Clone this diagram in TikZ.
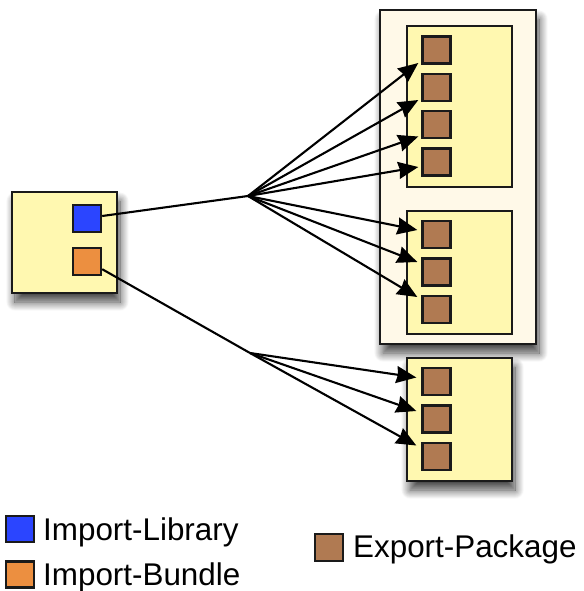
\documentclass[tikz,border=0pt]{standalone}
\usepackage{fontspec}
\setmainfont{Liberation Sans}
\usetikzlibrary{arrows.meta,calc,shadows.blur}
\definecolor{boxyellow}{HTML}{FFF8B0}
\definecolor{cream}{HTML}{FFF9E8}
\definecolor{libblue}{HTML}{2B45FF}
\definecolor{bndorange}{HTML}{EC8F40}
\definecolor{pkgbrown}{HTML}{B07A52}
\definecolor{edge}{HTML}{1A1A1A}
\tikzset{
  bundle/.style={draw=edge, line width=2.4bp, fill=boxyellow, inner sep=0pt},
  container/.style={draw=edge, line width=2.4bp, fill=cream, inner sep=0pt},
  shad/.style={blur shadow={shadow xshift=3bp, shadow yshift=-9bp, shadow blur radius=9bp, shadow blur steps=14, shadow opacity=75}},
  pkg/.style={draw=edge, line width=2.4bp, inner sep=0pt, minimum width=28bp, minimum height=27bp},
  explib/.style={pkg, fill=pkgbrown},
  implib/.style={pkg, fill=libblue},
  impbnd/.style={pkg, fill=bndorange},
  wire/.style={draw=black, line width=2.1bp},
  arrowwire/.style={wire, -{Stealth[length=20bp,width=17bp,inset=1.5bp]}},
  legtext/.style={anchor=base west, inner sep=0pt, font=\fontsize{31.5}{36}\selectfont}
}
\begin{document}
\begin{tikzpicture}[x=1bp,y=-1bp]
\useasboundingbox (0,0) rectangle (584,591);
% left bundle
\node[bundle, shad, minimum width=105bp, minimum height=101bp] (L) at (64.5,242.5) {};
\node[implib] (IL) at (87,218.5) {};
\node[impbnd] (IB) at (87,261.5) {};
% container with two bundles
\node[container, shad, minimum width=156bp, minimum height=334bp] (C) at (458,177) {};
\node[bundle, minimum width=105bp, minimum height=161bp] (B1) at (459.5,106.5) {};
\node[bundle, minimum width=105bp, minimum height=123bp] (B2) at (459.5,272.5) {};
\node[bundle, shad, minimum width=105bp, minimum height=123bp] (B3) at (459.5,419.5) {};
% export packages
\node[explib] (e1) at (436.5,50) {};
\node[explib] (e2) at (436.5,87.5) {};
\node[explib] (e3) at (436.5,124.5) {};
\node[explib] (e4) at (436.5,162) {};
\node[explib] (f1) at (436.5,234.5) {};
\node[explib] (f2) at (436.5,272) {};
\node[explib] (f3) at (436.5,309.5) {};
\node[explib] (g1) at (436.5,381.5) {};
\node[explib] (g2) at (436.5,419) {};
\node[explib] (g3) at (436.5,456.5) {};
% hubs and arrow ends
\coordinate (h1) at (248,196);
\coordinate (h2) at (250,353);
\coordinate (te1) at ($(e1.west)+(-3,13)$);
\coordinate (te2) at ($(e2.west)+(-3,12.5)$);
\coordinate (te3) at ($(e3.west)+(-3,12)$);
\coordinate (te4) at ($(e4.west)+(-3,5)$);
\coordinate (tf1) at ($(f1.west)+(-4,-4.5)$);
\coordinate (tf2) at ($(f2.west)+(-4,-10)$);
\coordinate (tf3) at ($(f3.west)+(-4,-12.5)$);
\coordinate (tg1) at ($(g1.west)+(-5,-4)$);
\coordinate (tg2) at ($(g2.west)+(-5,-8)$);
\coordinate (tg3) at ($(g3.west)+(-5,-11)$);
\coordinate (sIB) at ($(IB.south east)+(0,-7)$);
\coordinate (sIL) at ($(IL.east)+(0,-2.5)$);
% connectors
\draw[wire] (sIL) -- (h1);
\draw[wire] (sIB) -- (h2);
\foreach \t in {te1,te2,te3,te4,tf1,tf2,tf3}{\draw[arrowwire] (h1) -- (\t);}
\foreach \t in {tg1,tg2,tg3}{\draw[arrowwire] (h2) -- (\t);}
% legend
\node[implib, minimum height=26bp] (kIL) at (20,529) {};
\node[legtext] (lIL) at (43,540) {Import-Library};
\node[impbnd, minimum height=26bp] (kIB) at (20,574.5) {};
\node[legtext] (lIB) at (43,585) {Import-Bundle};
\node[explib] (kEP) at (329,547.5) {};
\node[legtext] (lEP) at (353,557) {Export-Package};
\end{tikzpicture}
\end{document}
